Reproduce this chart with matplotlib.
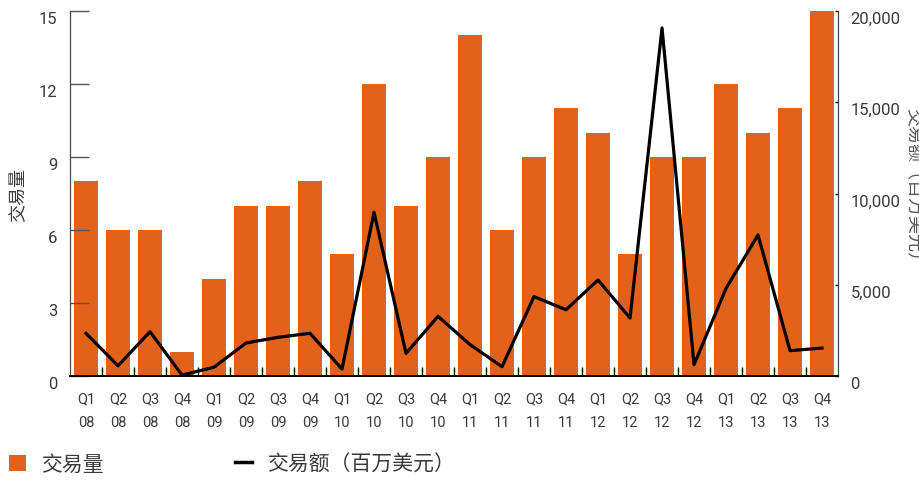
import numpy as np
import matplotlib.pyplot as plt
import matplotlib.transforms as mtransforms
from matplotlib.patches import Patch
from matplotlib.lines import Line2D

# 季度数据
quarters = ['Q1\n08', 'Q2\n08', 'Q3\n08', 'Q4\n08',
            'Q1\n09', 'Q2\n09', 'Q3\n09', 'Q4\n09',
            'Q1\n10', 'Q2\n10', 'Q3\n10', 'Q4\n10',
            'Q1\n11', 'Q2\n11', 'Q3\n11', 'Q4\n11',
            'Q1\n12', 'Q2\n12', 'Q3\n12', 'Q4\n12',
            'Q1\n13', 'Q2\n13', 'Q3\n13', 'Q4\n13']

# 交易量（笔）
volume = [8, 6, 6, 1, 4, 7, 7, 8, 5, 12, 7, 9,
          14, 6, 9, 11, 10, 5, 9, 9, 12, 10, 11, 15]

# 交易额（百万美元）
value = [2340, 560, 2430, 50, 480, 1810, 2120, 2340,
         380, 8970, 1240, 3270, 1720, 510, 4350, 3630,
         5260, 3180, 19070, 620, 4800, 7730, 1390, 1530]

orange = '#E2621B'
grey_txt = '#3a3a3a'
cjk = ['Noto Sans CJK SC', 'DejaVu Sans']
num_font = ['Roboto', 'DejaVu Sans']

fig = plt.figure(figsize=(9.2, 4.81), dpi=100)
ax = fig.add_axes([0.0761, 0.2162, 0.8348, 0.7588])
ax2 = ax.twinx()

x = np.arange(len(quarters))
ax.bar(x, volume, width=0.75, color=orange, zorder=1)
ax2.plot(x, value, color='black', lw=2.3, zorder=3)

ax.set_xlim(-0.5, len(quarters) - 0.5)
ax.set_ylim(0, 15)
ax2.set_ylim(0, 20000)

ax.set_yticks([0, 3, 6, 9, 12, 15])
ax2.set_yticks([0, 5000, 10000, 15000, 20000])
ax2.set_yticklabels(['0', '5,000', '10,000', '15,000', '20,000'])

ax.set_xticks(x)
ax.set_xticklabels(quarters, linespacing=1.9)
ax.set_xticks(np.arange(0.5, len(quarters) - 1, 1), minor=True)

ax.tick_params(axis='x', which='major', length=0, pad=11,
               labelsize=10.5, labelcolor=grey_txt)
ax.tick_params(axis='x', which='minor', direction='in', length=6.5,
               width=1, color='black')
ax.tick_params(axis='y', direction='in', length=13.5, width=1,
               color='#555555', pad=9, labelsize=12, labelcolor=grey_txt)
ax2.tick_params(axis='y', direction='in', length=2.5, width=1,
                color='black', pad=9, labelsize=12, labelcolor=grey_txt)

for lab in ax.get_xticklabels() + ax.get_yticklabels() + ax2.get_yticklabels():
    lab.set_family(num_font)

# 数字标签略往下移
shift = mtransforms.ScaledTranslation(0, -0.06, fig.dpi_scale_trans)
for lab in ax.get_yticklabels() + ax2.get_yticklabels():
    lab.set_transform(lab.get_transform() + shift)

for a in (ax, ax2):
    a.spines['top'].set_visible(False)
    a.spines['left'].set_color('#444444')
    a.spines['right'].set_color('#444444')
    a.spines['bottom'].set_color('black')
    a.spines['bottom'].set_linewidth(1.2)

ax.set_ylabel('交易量', family=cjk, fontsize=13, color=grey_txt, va='center')
ax2.set_ylabel('交易额（百万美元）', family=cjk, fontsize=13, color='#555555',
               rotation=-90, va='center')
ax.yaxis.set_label_coords(-0.068, 0.50)
ax2.yaxis.set_label_coords(1.097, 0.515)

handles = [Patch(facecolor=orange, edgecolor='none'),
           Line2D([0], [0], color='black', lw=2.5)]
fig.legend(handles, ['交易量', '交易额（百万美元）'], loc='lower left',
           bbox_to_anchor=(-0.006, -0.02), ncol=2, frameon=False,
           prop={'family': cjk, 'size': 15}, labelcolor=grey_txt,
           handlelength=0.8, handleheight=0.8, handletextpad=0.75,
           columnspacing=6.3, borderaxespad=0.3)

fig.savefig('out.png', dpi=100)
